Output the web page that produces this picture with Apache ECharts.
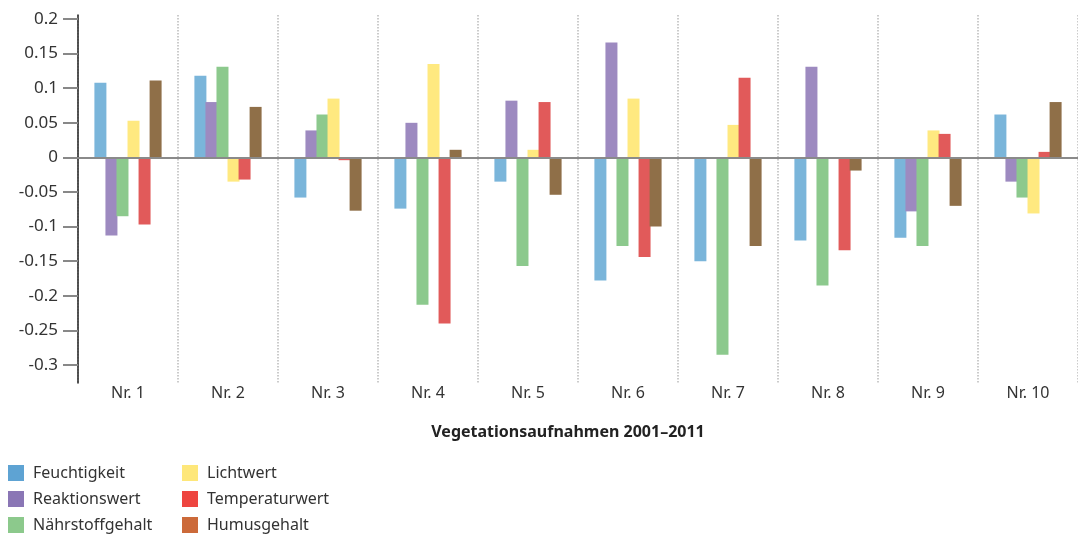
<!DOCTYPE html>
<html>
<head>
<meta charset="utf-8">
<script src="https://cdn.jsdelivr.net/npm/echarts@6/dist/echarts.min.js"></script>
<style>
  html,body{margin:0;padding:0;background:#fff;}
  #chart{width:1078px;height:535px;}
</style>
</head>
<body>
<div id="chart"></div>
<script>
// Kategorien (Aufnahmen)
const categories = ['Nr. 1','Nr. 2','Nr. 3','Nr. 4','Nr. 5','Nr. 6','Nr. 7','Nr. 8','Nr. 9','Nr. 10']
// Werte je Zeigerwert
const feuchtigkeit   = [0.108, 0.118, -0.058, -0.074, -0.035, -0.178, -0.150, -0.120, -0.116, 0.062]
const reaktionswert  = [-0.113, 0.080, 0.039, 0.050, 0.082, 0.166, 0, 0.131, -0.078, -0.035]
const naehrstoff     = [-0.085, 0.131, 0.062, -0.213, -0.157, -0.128, -0.285, -0.185, -0.128, -0.058]
const lichtwert      = [0.053, -0.035, 0.085, 0.135, 0.011, 0.085, 0.047, 0, 0.039, -0.081]
const temperaturwert = [-0.097, -0.032, -0.004, -0.240, 0.080, -0.144, 0.115, -0.134, 0.034, 0.008]
const humusgehalt    = [0.111, 0.073, -0.077, 0.011, -0.054, -0.100, -0.128, -0.019, -0.070, 0.080]
// Achsenbeschriftung
const yTicks = [0.2, 0.15, 0.1, 0.05, 0, -0.05, -0.1, -0.15, -0.2, -0.25, -0.3]

const font = 'Noto Sans'
const names = ['Feuchtigkeit','Reaktionswert','Nährstoffgehalt','Lichtwert','Temperaturwert','Humusgehalt']
const values = [feuchtigkeit, reaktionswert, naehrstoff, lichtwert, temperaturwert, humusgehalt]
const barColors = ['#7ab5da','#9d8ac0','#8cc98d','#ffe980','#e15a5a','#8f6f48']
const legendColors = ['#5ea3d3','#8a76b5','#8cc98c','#fee77a','#ee4540','#cc6a3a']

let chart = echarts.init(document.getElementById('chart'))

let series = names.map((n,i)=>({
  name:n,
  type:'bar',
  data:values[i],
  barWidth:12,
  barGap:'-8%',
  itemStyle:{color:barColors[i]},
  z:2
}))
// Nulllinie
series[0].markLine = {
  silent:true,
  symbol:'none',
  label:{show:false},
  lineStyle:{color:'#8a8a8a',width:2,type:'solid'},
  data:[{yAxis:0}],
  z:5
}

function legendBlock(idx,left){
  return {
    orient:'vertical',
    left:left,
    top:465,
    padding:0,
    itemWidth:16,
    itemHeight:16,
    itemGap:10,
    icon:'rect',
    selectedMode:false,
    textStyle:{fontFamily:font,fontSize:16,color:'#333',padding:[0,0,0,4]},
    data:idx.map(i=>({name:names[i],itemStyle:{color:legendColors[i]}}))
  }
}

let option = {
  animation:false,
  grid:{left:78,right:-1,top:15,height:368},
  legend:[legendBlock([0,1,2],8),legendBlock([3,4,5],182)],
  xAxis:{
    type:'category',
    data:categories,
    position:'bottom',
    axisLine:{show:false,onZero:false},
    axisTick:{show:false},
    splitLine:{show:true,interval:0,lineStyle:{color:'#bbb',type:'dotted',width:1.5}},
    axisLabel:{margin:2,fontFamily:font,fontSize:16,color:'#333'},
    name:'Vegetationsaufnahmen 2001–2011',
    nameLocation:'middle',
    nameGap:41,
    nameTextStyle:{fontFamily:font,fontSize:16,fontWeight:'bold',color:'#222',padding:[0,20,0,0]}
  },
  yAxis:{
    type:'value',
    min:-0.326,
    max:0.2058,
    axisLine:{show:true,lineStyle:{color:'#222',width:1.5}},
    axisTick:{show:true,length:15,customValues:yTicks,lineStyle:{color:'#888',width:2}},
    splitLine:{show:false},
    axisLabel:{customValues:yTicks,margin:20,fontFamily:font,fontSize:17,color:'#333'}
  },
  series:series
}

chart.setOption(option)
</script>
</body>
</html>
